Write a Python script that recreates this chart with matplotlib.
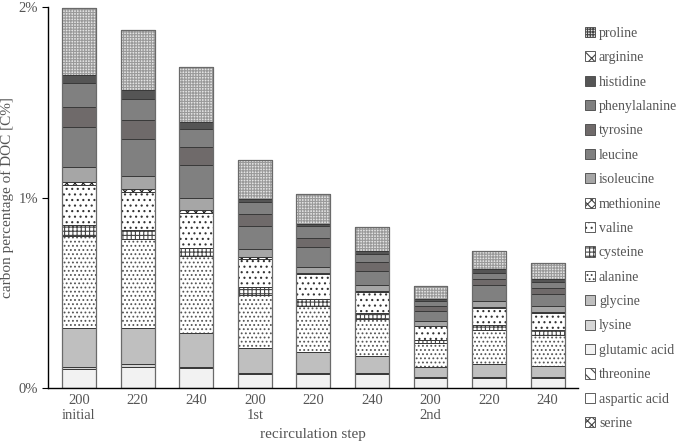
import numpy as np
import matplotlib
matplotlib.use("Agg")
import matplotlib.pyplot as plt
from matplotlib.patches import Patch

plt.rcParams["font.family"] = ["Liberation Serif", "DejaVu Serif"]
plt.rcParams["hatch.linewidth"] = 0.8

tick_labels = ["200\ninitial", "220", "240", "200\n1st", "220", "240", "200\n2nd", "220", "240"]

# stack order from bottom to top, values in C% of DOC
amino_acids = ["serine", "aspartic acid", "threonine", "glutamic acid", "lysine", "glycine",
               "alanine", "cysteine", "valine", "methionine", "isoleucine", "leucine",
               "tyrosine", "phenylalanine", "histidine", "arginine", "proline"]

serine        = [0, 0, 0, 0, 0, 0, 0, 0, 0]
aspartic_acid = [0, 0, 0, 0, 0, 0, 0, 0, 0]
threonine     = [0, 0, 0, 0, 0, 0, 0, 0, 0]
glutamic_acid = [0.100, 0.110, 0.105, 0.073, 0.073, 0.073, 0.052, 0.051, 0.055]
lysine        = [0.010, 0.015, 0.007, 0.007, 0.007, 0.005, 0.005, 0.005, 0.005]
glycine       = [0.205, 0.189, 0.175, 0.128, 0.110, 0.091, 0.052, 0.070, 0.056]
alanine       = [0.485, 0.467, 0.407, 0.280, 0.240, 0.195, 0.126, 0.180, 0.163]
cysteine      = [0.055, 0.049, 0.042, 0.044, 0.035, 0.030, 0.018, 0.023, 0.023]
valine        = [0.210, 0.200, 0.182, 0.148, 0.133, 0.110, 0.070, 0.093, 0.091]
methionine    = [0.017, 0.015, 0.016, 0.008, 0.005, 0.005, 0.004, 0.005, 0.004]
isoleucine    = [0.076, 0.070, 0.065, 0.042, 0.033, 0.030, 0.026, 0.031, 0.031]
leucine       = [0.210, 0.193, 0.173, 0.119, 0.102, 0.078, 0.052, 0.082, 0.065]
tyrosine      = [0.110, 0.101, 0.091, 0.065, 0.052, 0.044, 0.023, 0.030, 0.030]
phenylalanine = [0.123, 0.109, 0.098, 0.061, 0.059, 0.044, 0.030, 0.035, 0.035]
histidine     = [0.042, 0.045, 0.034, 0.018, 0.010, 0.012, 0.009, 0.018, 0.014]
arginine      = [0, 0, 0, 0, 0, 0, 0, 0, 0]
proline       = [0.352, 0.315, 0.292, 0.204, 0.161, 0.128, 0.067, 0.096, 0.082]

values = [serine, aspartic_acid, threonine, glutamic_acid, lysine, glycine, alanine,
          cysteine, valine, methionine, isoleucine, leucine, tyrosine, phenylalanine,
          histidine, arginine, proline]

# (facecolor, hatch, hatch colour)
styles = {
    "serine":        ("white",   "xxxx",   "#333333"),
    "aspartic acid": ("white",   None,     "#333333"),
    "threonine":     ("white",   "\\\\\\",  "#333333"),
    "glutamic acid": ("#f2f2f2", None,     "#333333"),
    "lysine":        ("#d6d6d6", None,     "#333333"),
    "glycine":       ("#bfbfbf", None,     "#333333"),
    "alanine":       ("white",   "....",   "#555555"),
    "cysteine":      ("white",   "++++",   "#444444"),
    "valine":        ("white",   "...",    "#333333"),
    "methionine":    ("white",   "xxxx",   "#222222"),
    "isoleucine":    ("#a6a6a6", None,     "#333333"),
    "leucine":       ("#808080", None,     "#333333"),
    "tyrosine":      ("#6f6a6a", None,     "#333333"),
    "phenylalanine": ("#808080", None,     "#333333"),
    "histidine":     ("#555555", None,     "#333333"),
    "arginine":      ("white",   "xx",     "#333333"),
    "proline":       ("#e4e4e4", "++++++", "#9a9a9a"),
}

x = np.arange(len(tick_labels))
width = 0.58

fig = plt.figure(figsize=(6.85, 4.47), dpi=100)
ax = fig.add_axes([0.070, 0.132, 0.774, 0.852])

bottom = np.zeros(len(x))
handles = []
for name, vals in zip(amino_acids, values):
    vals = np.array(vals) * 1.0
    fc, hatch, hc = styles[name]
    ax.bar(x, vals, width, bottom=bottom, color=fc, hatch=hatch,
           edgecolor=hc, linewidth=0)
    ax.bar(x, vals, width, bottom=bottom, fill=False,
           edgecolor="#3a3a3a", linewidth=0.7)
    handles.append(Patch(facecolor=fc, hatch=hatch, edgecolor="#444444",
                         linewidth=0.6, label=name))
    bottom += vals

# outline of whole bars
ax.bar(x, bottom, width, fill=False, edgecolor="#6a6a6a", linewidth=0.9)

ax.set_xlim(-0.53, 8.52)
ax.set_ylim(0, 2)
ax.set_yticks([0, 1, 2])
ax.set_yticklabels(["0%", "1%", "2%"])
ax.set_xticks(x)
ax.set_xticklabels(tick_labels)
ax.tick_params(axis="x", length=0, pad=4, labelsize=10.5, labelcolor="#555555")
ax.tick_params(axis="y", direction="out", length=4, pad=3, labelsize=10.5,
               labelcolor="#555555")
for s in ["top", "right"]:
    ax.spines[s].set_visible(False)
ax.spines["left"].set_linewidth(1.0)
ax.spines["bottom"].set_linewidth(1.0)
ax.set_xlabel("recirculation step", fontsize=11, color="#555555", labelpad=5)
ax.set_ylabel("carbon percentage of DOC [C%]", fontsize=11, color="#555555")
ax.yaxis.set_label_coords(-0.064, 0.5)

fig.legend(handles=handles[::-1], loc="upper left", bbox_to_anchor=(0.854, 0.94),
           frameon=False, fontsize=10, handlelength=0.75, handleheight=0.75,
           handletextpad=0.25, labelspacing=0.82, labelcolor="#555555",
           borderaxespad=0, borderpad=0)

fig.savefig("out.png", dpi=100)
